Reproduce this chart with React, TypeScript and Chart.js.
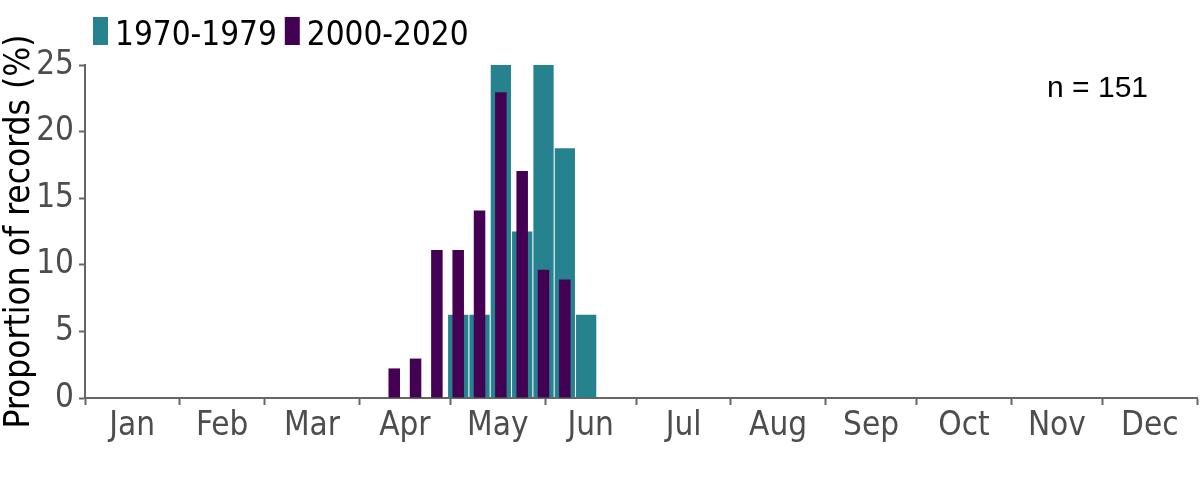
import { useEffect, useRef } from "react";
import { Chart, registerables } from "chart.js";

Chart.register(...registerables);

// ---- data ----
const seriesLabels = ["1970-1979", "2000-2020"];
const seriesColors = ["#26828E", "#440154"];
const weeks1970s = [18, 19, 20, 21, 22, 23, 24];
const values1970s = [6.25, 6.25, 25, 12.5, 25, 18.75, 6.25];
const weeks2000s = [15, 16, 17, 18, 19, 20, 21, 22, 23];
const values2000s = [2.22, 2.96, 11.11, 11.11, 14.07, 22.96, 17.04, 9.63, 8.89];
const monthLabels = ["Jan", "Feb", "Mar", "Apr", "May", "Jun", "Jul", "Aug", "Sep", "Oct", "Nov", "Dec"];
const monthStartDays = [0, 31, 59, 90, 120, 151, 181, 212, 243, 273, 304, 334, 365];
const yTickStep = 5;
const yMax = 25;
const sampleSize = 151;
const yTitle = "Proportion of records (%)";

const FONT = "'DejaVu Sans Condensed', 'DejaVu Sans', sans-serif";
const AXIS_GREY = "#666666";
const TICK_TEXT = "#4d4d4d";

const weekCenterDay = (w: number) => (w - 1) * 7 + 3.5;

// tick values: month starts (tick marks) and month mids (labels)
const xTickValues: number[] = [];
monthStartDays.forEach((d, i) => {
  xTickValues.push(d);
  if (i < monthLabels.length) xTickValues.push((d + monthStartDays[i + 1]) / 2);
});

const overlayPlugin = {
  id: "overlay",
  afterDraw(chart: any) {
    const ctx = chart.ctx;
    ctx.save();
    // legend
    ctx.font = `33px ${FONT}`;
    ctx.textBaseline = "alphabetic";
    ctx.textAlign = "left";
    let x = 93;
    chart.data.datasets.forEach((ds: any) => {
      ctx.fillStyle = ds.backgroundColor;
      ctx.fillRect(x, 17, 15, 28);
      x += 15 + 7;
      ctx.fillStyle = "#000";
      ctx.fillText(ds.label, x, 45);
      x += ctx.measureText(ds.label).width + 8;
    });
    // sample size
    const area = chart.chartArea;
    ctx.font = "30px 'Liberation Sans', Arial, sans-serif";
    ctx.textAlign = "right";
    ctx.fillStyle = "#000";
    ctx.fillText(`n = ${sampleSize}`, area.right - 49, area.top + 32);
    ctx.restore();
  },
};

export default function App() {
  const canvasRef = useRef<HTMLCanvasElement | null>(null);

  useEffect(() => {
    const canvas = canvasRef.current;
    if (!canvas) return;
    const chart = new Chart(canvas, {
      type: "bar",
      data: {
        datasets: [
          {
            label: seriesLabels[0],
            data: weeks1970s.map((w, i) => ({ x: weekCenterDay(w), y: values1970s[i] })),
            backgroundColor: seriesColors[0],
            borderWidth: 0,
            grouped: false,
            categoryPercentage: 1,
            barPercentage: 0.95,
            order: 2,
          },
          {
            label: seriesLabels[1],
            data: weeks2000s.map((w, i) => ({ x: weekCenterDay(w), y: values2000s[i] })),
            backgroundColor: seriesColors[1],
            borderWidth: 0,
            grouped: false,
            categoryPercentage: 1,
            barPercentage: 0.54,
            order: 1,
          },
        ] as any,
      },
      options: {
        animation: false,
        responsive: false,
        devicePixelRatio: 1,
        layout: { padding: { top: 65, right: 3, left: 0, bottom: 0 } },
        plugins: {
          legend: { display: false },
          tooltip: { enabled: false },
        },
        scales: {
          x: {
            type: "linear",
            min: 0,
            max: 365,
            offset: false,
            afterBuildTicks: (scale: any) => {
              scale.ticks = xTickValues.map((v) => ({ value: v }));
            },
            afterFit: (scale: any) => {
              scale.height = 82;
            },
            ticks: {
              autoSkip: false,
              maxRotation: 0,
              padding: 2,
              color: TICK_TEXT,
              font: { family: FONT, size: 33 },
              callback: (_v: any, index: number) =>
                index % 2 === 1 ? monthLabels[(index - 1) / 2] : "",
            },
            grid: {
              offset: false,
              drawOnChartArea: false,
              tickLength: 7,
              tickWidth: 2,
              tickColor: (ctx: any) =>
                ctx.index % 2 === 0 ? AXIS_GREY : "rgba(0,0,0,0)",
            },
            border: { display: true, color: AXIS_GREY, width: 2 },
          } as any,
          y: {
            type: "linear",
            min: 0,
            max: yMax,
            afterFit: (scale: any) => {
              scale.width = 85;
            },
            ticks: {
              stepSize: yTickStep,
              padding: 5,
              color: TICK_TEXT,
              font: { family: FONT, size: 33 },
            },
            grid: {
              offset: false,
              drawOnChartArea: false,
              tickLength: 6,
              tickWidth: 2,
              tickColor: AXIS_GREY,
            },
            border: { display: true, color: AXIS_GREY, width: 2 },
            title: {
              display: true,
              text: yTitle,
              color: "#000",
              padding: { top: 2, bottom: 0 },
              font: { family: FONT, size: 35, lineHeight: 1 },
            },
          } as any,
        },
      },
      plugins: [overlayPlugin],
    });
    return () => chart.destroy();
  }, []);

  return (
    <div style={{ position: "absolute", left: 0, top: 0, width: 1200, height: 480, background: "#fff" }}>
      <canvas ref={canvasRef} width={1200} height={480} style={{ width: 1200, height: 480, display: "block" }} />
    </div>
  );
}
